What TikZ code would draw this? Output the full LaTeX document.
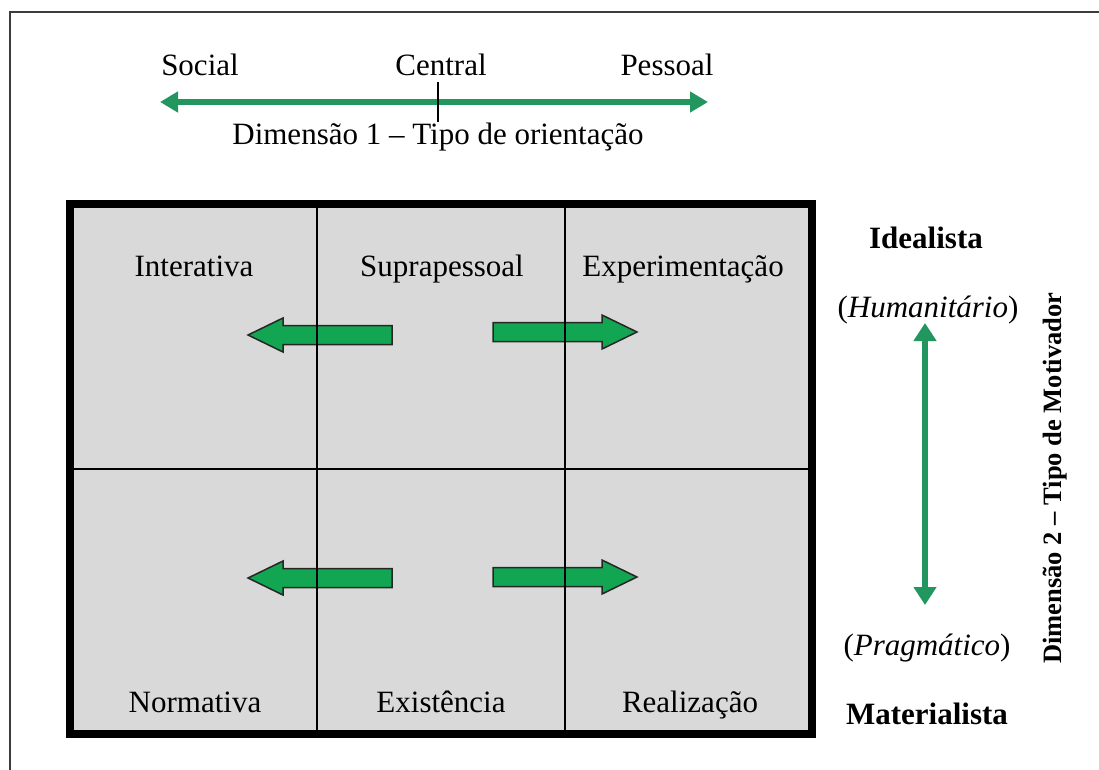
\documentclass[tikz,border=0pt]{standalone}
\usepackage{fontspec}
\setmainfont{Liberation Serif}
\usetikzlibrary{arrows.meta}
\definecolor{axisgreen}{RGB}{34,150,95}
\definecolor{blockgreen}{RGB}{18,165,82}
\definecolor{cellgray}{RGB}{217,217,217}
\definecolor{framegray}{RGB}{60,60,60}
\begin{document}
\begin{tikzpicture}[x=1pt,y=-1pt,
  lbl/.style={font=\fontsize{31}{37}\selectfont, inner sep=0pt, anchor=base},
  blbl/.style={lbl, font=\fontsize{31}{37}\selectfont\bfseries},
  ilbl/.style={lbl, font=\fontsize{31}{37}\selectfont\itshape},
  blk/.style={fill=blockgreen, draw=black!85, line width=1.5pt, line join=miter},
  axisline/.style={draw=axisgreen, line width=5.5pt,
    {Triangle[length=18pt,width=20pt]}-{Triangle[length=18pt,width=20pt]}},
  divider/.style={draw=black, line width=2pt},
  border/.style={draw=black, line width=7.5pt}]
\useasboundingbox (0,0) rectangle (1099,769);
% outer frame (cropped at right and bottom)
\draw[framegray, line width=2.5pt] (10,775) -- (10,12) -- (1105,12);

% dimension 1 axis
\coordinate (axL) at (160,102);
\coordinate (axR) at (708,102);
\draw[axisline] (axL) -- (axR);
\coordinate (tickT) at (438,82);
\coordinate (tickB) at (438,122);
\draw[black, line width=1.5pt] (tickT) -- (tickB);
\node[lbl] (social) at (200,75) {Social};
\node[lbl] (central) at (441,75) {Central};
\node[lbl] (pessoal) at (667,75) {Pessoal};
\node[lbl] (dim1) at (438,144) {Dimensão 1 – Tipo de orientação};

% main grid
\fill[cellgray] (70,204) rectangle (812,734);

% block arrows
\draw[blk] (392,325.5) -- (283,325.5) -- (283,318) -- (248,335) -- (283,352) -- (283,344.5) -- (392,344.5) -- cycle;
\draw[blk] (493,322.5) -- (602,322.5) -- (602,315) -- (637,332) -- (602,349) -- (602,341.5) -- (493,341.5) -- cycle;
\draw[blk] (392,568.5) -- (283,568.5) -- (283,561) -- (248,578) -- (283,595) -- (283,587.5) -- (392,587.5) -- cycle;
\draw[blk] (493,567.5) -- (602,567.5) -- (602,560) -- (637,577) -- (602,594) -- (602,586.5) -- (493,586.5) -- cycle;

% dividers
\coordinate (v1t) at (317,204); \coordinate (v1b) at (317,734);
\coordinate (v2t) at (565,204); \coordinate (v2b) at (565,734);
\coordinate (hl) at (70,469);   \coordinate (hr) at (812,469);
\draw[divider] (v1t) -- (v1b);
\draw[divider] (v2t) -- (v2b);
\draw[divider] (hl) -- (hr);
\draw[border] (70,204) rectangle (812,734);

% cell labels
\node[lbl] (interativa) at (194,276) {Interativa};
\node[lbl] (suprapessoal) at (442,276) {Suprapessoal};
\node[lbl] (experimentacao) at (683,276) {Experimentação};
\node[lbl] (normativa) at (195,712) {Normativa};
\node[lbl] (existencia) at (441,712) {Existência};
\node[lbl] (realizacao) at (690,712) {Realização};

% dimension 2
\node[blbl] (idealista) at (926,248) {Idealista};
\node[lbl] (humanitario) at (928,317) {(\textit{Humanitário})};
\node[lbl] (pragmatico) at (927,655) {(\textit{Pragmático})};
\node[blbl] (materialista) at (927,724) {Materialista};
\coordinate (vT) at (925,323);
\coordinate (vB) at (925,605);
\draw[axisline, line width=6pt, {Triangle[length=18pt,width=22pt]}-{Triangle[length=18pt,width=22pt]}] (vT) -- (vB);
\node[inner sep=0pt, rotate=90, font=\fontsize{26.5}{30}\selectfont\bfseries] (dim2) at (1055,478) {Dimensão 2 – Tipo de Motivador};
\end{tikzpicture}
\end{document}
